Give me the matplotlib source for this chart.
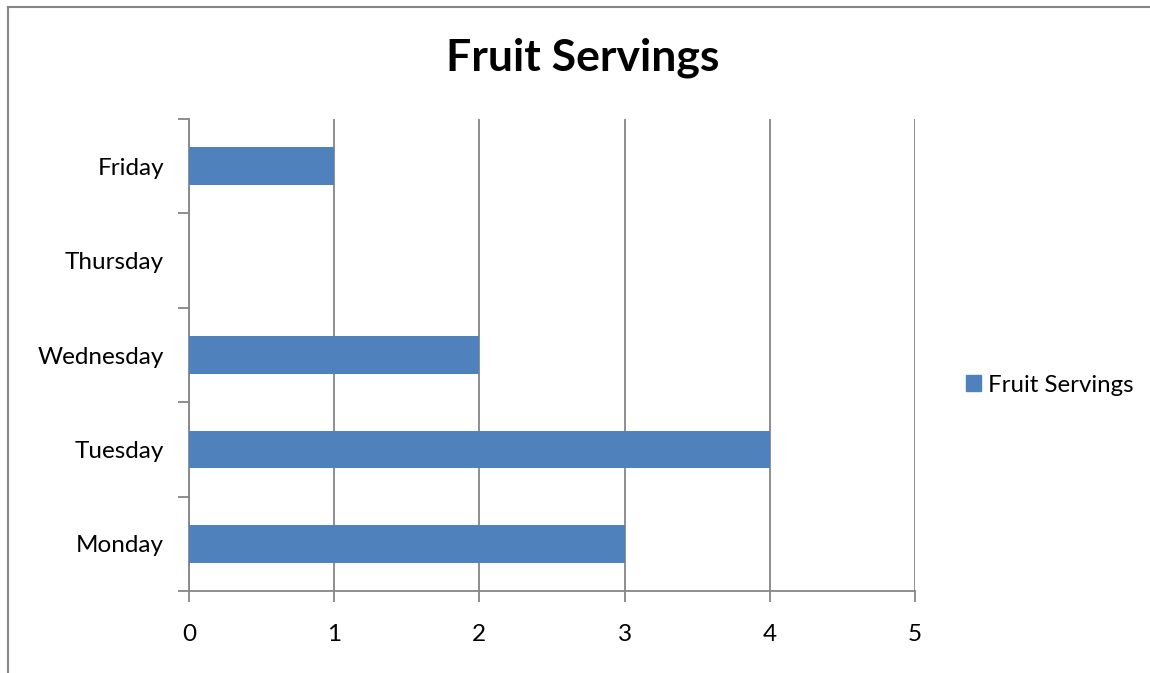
import matplotlib
matplotlib.use("Agg")
import matplotlib.pyplot as plt
from matplotlib.lines import Line2D
from matplotlib.patches import Patch

categories = ["Monday", "Tuesday", "Wednesday", "Thursday", "Friday"]
values = [3, 4, 2, 0, 1]
xticks = [0, 1, 2, 3, 4, 5]
series_name = "Fruit Servings"
title = "Fruit Servings"

plt.rcParams['font.family'] = ['Lato', 'DejaVu Sans']

W, H = 1150, 673
fig = plt.figure(figsize=(W / 100, H / 100), dpi=100)
ax = fig.add_axes([189 / W, 1 - 591 / H, (915 - 189) / W, (591 - 119) / H])

bar_color = "#4F81BD"
grid_color = "#868686"

ypos = list(range(len(categories)))
ax.barh(ypos, values, height=0.4, color=bar_color, zorder=3)
ax.set_ylim(-0.5, len(categories) - 0.5)
ax.set_xlim(0, 5)

ax.set_xticks(xticks)
ax.set_xticklabels([str(t) for t in xticks])
ax.set_yticks([i - 0.5 for i in range(len(categories) + 1)], minor=False)
ax.set_yticklabels([])
ax.set_yticks(ypos, minor=True)
ax.set_yticklabels(categories, minor=True)
ax.tick_params(axis='y', which='minor', length=0, pad=18, labelsize=17.5)
ax.tick_params(axis='y', which='major', length=8, width=1.3, color=grid_color, direction='out')
ax.tick_params(axis='x', length=8, width=1.3, color=grid_color, direction='out', labelsize=17.5, pad=16)

ax.xaxis.grid(True, color=grid_color, linewidth=1.3, zorder=0)
ax.set_axisbelow(True)
for s in ["top", "right"]:
    ax.spines[s].set_visible(False)
for s in ["left", "bottom"]:
    ax.spines[s].set_color(grid_color)
    ax.spines[s].set_linewidth(1.3)

fig.text(583 / W, 1 - 58 / H, title, ha='center', va='center', fontsize=32, fontweight='bold')

fig.legend(handles=[Patch(color=bar_color, label=series_name)], loc='center left',
           bbox_to_anchor=(944 / W, 1 - 385 / H), frameon=False, fontsize=17.3,
           handlelength=0.62, handleheight=0.62, handletextpad=0.3)

fig.add_artist(Line2D([8 / W, 8 / W], [0, 1 - 7 / H], color=grid_color, linewidth=1.5))
fig.add_artist(Line2D([8 / W, 1], [1 - 7 / H, 1 - 7 / H], color=grid_color, linewidth=1.5))

fig.savefig("out.png", dpi=100)
